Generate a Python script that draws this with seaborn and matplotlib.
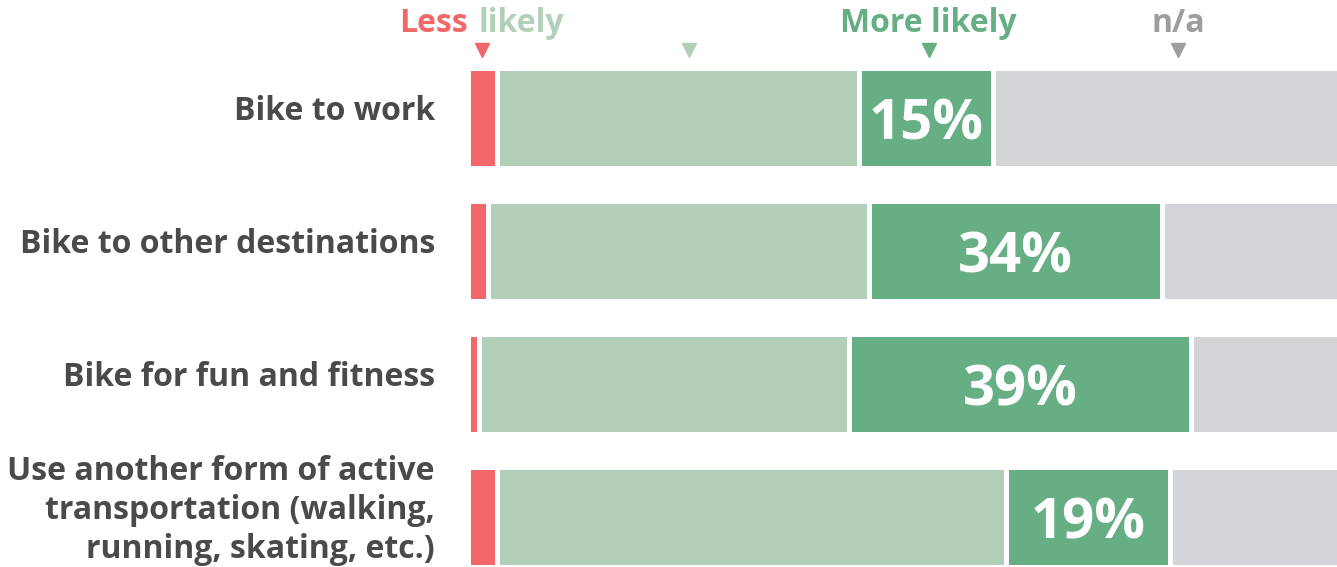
import numpy as np
import pandas as pd
import matplotlib
matplotlib.use("Agg")
import matplotlib.pyplot as plt
import seaborn as sns

# survey data (percent of respondents)
categories = [
    "Bike to work",
    "Bike to other destinations",
    "Bike for fun and fitness",
    "Use another form of active\ntransportation (walking,\nrunning, skating, etc.)",
]
less_likely = [3.4, 2.4, 1.3, 3.4]
no_change = [41.5, 43.6, 42.5, 58.3]
more_likely = [15.4, 33.6, 39.2, 18.9]
not_applicable = [39.7, 20.4, 17.0, 19.4]

RED = "#F2676A"
LIGHT = "#B2D0B9"
GREEN = "#66AF84"
GRAY = "#D3D4D8"
GRAY_TXT = "#9C9DA1"
LABEL_TXT = "#4A4A4A"

sns.set_style("white")
plt.rcParams["font.family"] = ["Open Sans", "DejaVu Sans"]

df = pd.DataFrame({
    "category": categories,
    "less": less_likely,
    "neutral": no_change,
    "more": more_likely,
    "na": not_applicable,
})
df["c_less"] = df["less"]
df["c_neutral"] = df["c_less"] + df["neutral"]
df["c_more"] = df["c_neutral"] + df["more"]
df["c_na"] = df["c_more"] + df["na"]

fig = plt.figure(figsize=(13.37, 5.67), dpi=100)
ax = fig.add_axes([467.5 / 1337, 0, (1339.5 - 467.5) / 1337, 1])

# stacked bars by overlaying cumulative totals
for col, color in [("c_na", GRAY), ("c_more", GREEN), ("c_neutral", LIGHT), ("c_less", RED)]:
    sns.barplot(data=df, x=col, y="category", color=color, orient="h", width=0.755,
                edgecolor="white", linewidth=3.6, saturation=1, ax=ax)

# percentage labels on the "more likely" segment
for i, row in df.iterrows():
    ax.text((row["c_neutral"] + row["c_more"]) / 2, i + 0.05, f"{round(row['more'])}%",
            ha="center", va="center", color="white", fontsize=40.5, fontweight="bold")

# category labels
for i, cat in enumerate(categories):
    ax.text(-3.73, i - 0.05, cat, ha="right", va="center", color=LABEL_TXT,
            fontsize=23, fontweight="bold", linespacing=1.24, clip_on=False)

# header legend
legend_x = [1.66, 25.4, 52.9, 81.5]
legend_c = [RED, LIGHT, GREEN, "#9C9DA1"]
for x, c in zip(legend_x, legend_c):
    ax.plot(x, -0.51, marker="v", color=c, markersize=10, clip_on=False)
ax.annotate("Less", (legend_x[0], -0.71), xytext=(-10, 0), textcoords="offset points",
            ha="right", va="center", color=RED, fontsize=23, fontweight="bold")
ax.annotate("likely", (legend_x[0], -0.71), xytext=(-2.5, 0), textcoords="offset points",
            ha="left", va="center", color=LIGHT, fontsize=23, fontweight="bold")
ax.text(legend_x[2], -0.71, "More likely", ha="center", va="center", color=GREEN,
        fontsize=23, fontweight="bold")
ax.text(legend_x[3], -0.71, "n/a", ha="center", va="center", color=GRAY_TXT,
        fontsize=23, fontweight="bold")

ax.set_xlim(0, 100)
ax.set_ylim(3.376, -0.887)
ax.set_xlabel("")
ax.set_ylabel("")
ax.set_xticks([])
ax.set_yticks([])
sns.despine(ax=ax, left=True, bottom=True)

fig.savefig("out.png", dpi=100)
